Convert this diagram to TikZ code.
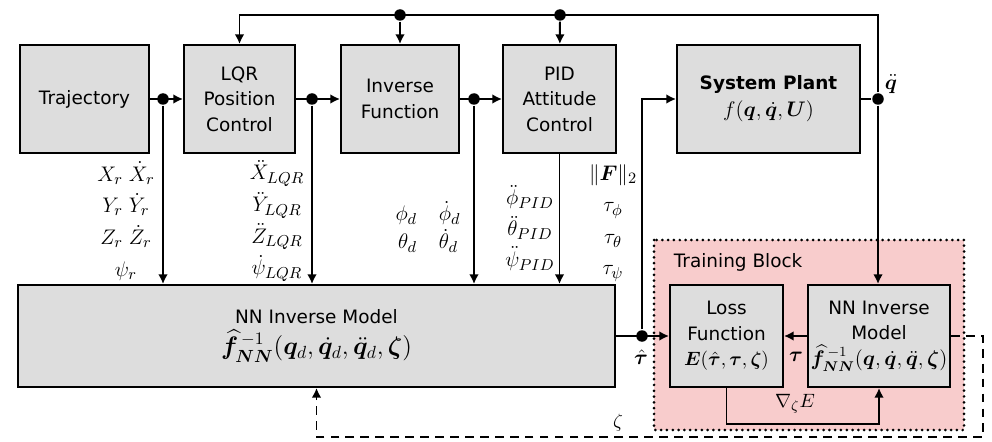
\documentclass[tikz,border=0pt]{standalone}
\usepackage{amsmath,amssymb,bm}
\usepackage{fontspec}
\setmainfont{DejaVu Sans}
\usetikzlibrary{arrows.meta}

\definecolor{blockgray}{RGB}{221,221,221}
\definecolor{trainpink}{RGB}{248,204,204}

% formula line at a given size
\newcommand{\fml}[2]{{\fontsize{#1}{#1}\selectfont$#2$}}

\begin{document}
\begin{tikzpicture}[x=0.2mm, y=-0.2mm, line width=1.1pt,
    block/.style={draw, fill=blockgray, inner sep=0pt, align=center, minimum height=2.16cm, font=\fontsize{10.5}{14.5}\selectfont},
    wire/.style={-{Latex[length=5.5pt,width=5.5pt]}},
    zetaline/.style={wire, dash pattern=on 5pt off 3.5pt},
    trainbox/.style={line width=1.7pt, dash pattern=on 0pt off 3.3pt, line cap=round},
    sig/.style={align=center, inner sep=0pt, font=\fontsize{12.5}{18}\selectfont},
    junc/.style={circle, fill, inner sep=0pt, minimum size=0.23cm}]
    \useasboundingbox (0,0) rectangle (992,441);

    % Training block background
    \fill[trainpink] (654,240) rectangle (964,430);
    \draw[trainbox] (654,240) rectangle (964,430);
    \node[anchor=west, font=\fontsize{10.5}{12}\selectfont] (tblabel) at (667,262) {Training Block};

    % Blocks
    \node[block, minimum width=2.58cm] (traj) at (84.5,99) {Trajectory};
    \node[block, minimum width=2.22cm] (lqr) at (239.5,99) {LQR\\Position\\Control};
    \node[block, minimum width=2.36cm] (inv) at (400,99) {Inverse\\Function};
    \node[block, minimum width=2.26cm] (pid) at (559.5,99) {PID\\Attitude\\Control};
    \node[block, minimum width=3.66cm] (plant) at (768.5,99) {\textbf{System Plant}\\[1pt]\fml{12.5}{f(\bm q,\dot{\bm q},\bm U)}};
    \node[block, minimum width=11.94cm, minimum height=2.04cm] (nnbig) at (316.5,336) {NN Inverse Model\\[3pt]\fml{14}{\widehat{\bm f}^{\,-1}_{\bm{NN}}(\bm q_d,\dot{\bm q}_d,\ddot{\bm q}_d,\bm\zeta)}};
    \node[block, minimum width=2.26cm, minimum height=2.04cm] (loss) at (726.5,336) {Loss\\Function\\\fml{10.5}{\bm E(\hat{\bm\tau},\bm\tau,\bm\zeta)}};
    \node[block, minimum width=2.84cm, minimum height=2.04cm] (nnsmall) at (879,336) {NN Inverse\\Model\\\fml{11.5}{\widehat{\bm f}^{\,-1}_{\bm{NN}}(\bm q,\dot{\bm q},\ddot{\bm q},\bm\zeta)}};

    % Junctions
    \node[junc] (jtraj) at (163,99) {};
    \node[junc] (jlqr) at (312,99) {};
    \node[junc] (jinv) at (474,99) {};
    \node[junc] (jq) at (878,99) {};
    \node[junc] (jtau) at (642,336) {};
    \node[junc] (jtopinv) at (400,15) {};
    \node[junc] (jtoppid) at (560,15) {};
    \coordinate (ftop) at (878,15);
    \coordinate (zc) at (983,437);

    % Forward path
    \draw[wire] (traj) -- (lqr);
    \draw[wire] (lqr) -- (inv);
    \draw[wire] (inv) -- (pid);
    \draw (plant) -- (jq);
    \draw[wire] (jtau) |- (plant.west);

    % Signals into the NN model
    \draw[wire] (jtraj) -- (jtraj |- nnbig.north);
    \draw[wire] (jlqr) -- (jlqr |- nnbig.north);
    \draw[wire] (jinv) -- (jinv |- nnbig.north);
    \draw[wire] (pid) -- (pid |- nnbig.north);

    % State feedback
    \draw[wire] (jq) |- (ftop) -| (lqr.north);
    \draw[wire] (jtopinv) -- (inv);
    \draw[wire] (jtoppid) -- (pid);
    \draw[wire] (jq) -- (jq |- nnsmall.north);

    % Training loop
    \draw[wire] (nnbig) -- (loss);
    \draw[wire] (nnsmall) -- (loss);
    \draw[wire] (loss.south) -- ++(0,36) -| (nnsmall.south);
    \draw[zetaline] (nnsmall.east) -| (zc) -| (nnbig.south);

    % Labels
    \node[sig] (trajsig) at (126,221) {$X_r\;\dot X_r$\\$Y_r\;\dot Y_r$\\$Z_r\;\dot Z_r$\\$\psi_r$};
    \node[sig] (lqrsig) at (277,221) {$\ddot X_{LQR}$\\$\ddot Y_{LQR}$\\$\ddot Z_{LQR}$\\$\dot\psi_{LQR}$};
    \node[sig, font=\fontsize{12.5}{16}\selectfont] (invsig) at (428,227) {$\phi_d\quad\dot\phi_d$\\$\theta_d\quad\dot\theta_d$};
    \node[sig, font=\fontsize{12.5}{17.5}\selectfont] (pidsig) at (530,228) {$\ddot\phi_{PID}$\\$\ddot\theta_{PID}$\\$\ddot\psi_{PID}$};
    \node[sig] (torq) at (613,223) {$\|\bm F\|_2$\\$\tau_\phi$\\$\tau_\theta$\\$\tau_\psi$};
    \node[sig] (qddlabel) at (891,84) {$\ddot{\bm q}$};
    \node[sig] (tauhat) at (641,357) {$\hat{\bm\tau}$};
    \node[sig] (taulabel) at (796,357) {$\bm\tau$};
    \node[sig, font=\fontsize{11}{12}\selectfont] (gradlabel) at (795,404) {$\nabla_{\zeta}E$};
    \node[sig, font=\fontsize{11}{12}\selectfont] (zetalabel) at (618,423) {$\zeta$};
\end{tikzpicture}
\end{document}
